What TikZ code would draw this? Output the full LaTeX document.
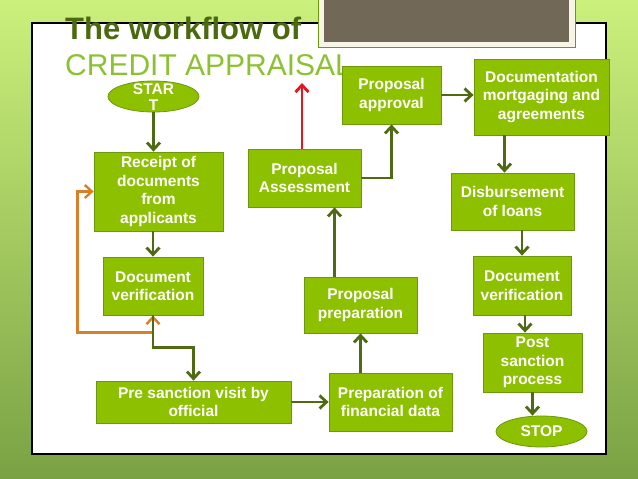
\documentclass[tikz,border=0pt]{standalone}
\usepackage{fontspec}
\setmainfont{Liberation Sans}
\usetikzlibrary{shapes.geometric,calc,arrows.meta,positioning}
\definecolor{boxfill}{RGB}{141,193,0}
\definecolor{boxedge}{RGB}{108,152,12}
\definecolor{flowgreen}{RGB}{78,107,20}
\definecolor{loopback}{RGB}{214,128,42}
\definecolor{redflow}{RGB}{232,20,30}
\definecolor{titledark}{RGB}{75,106,16}
\definecolor{titlelight}{RGB}{140,194,50}
\definecolor{slate}{RGB}{113,104,88}
\definecolor{bgtop}{RGB}{204,240,124}
\definecolor{bgbottom}{RGB}{122,162,68}

\begin{document}
\begin{tikzpicture}[x=1pt, y=-1pt, >={Straight Barb[length=7pt,width=13pt]},
  box/.style={draw=boxedge, line width=0.8pt, fill=boxfill, text=white, align=center, inner sep=1pt, font=\bfseries\fontsize{15.5}{18.5}\selectfont},
  oval/.style={box, ellipse, minimum width=91pt, minimum height=31pt, inner sep=0pt},
  flow/.style={->, draw=flowgreen, line width=2.8pt},
  backflow/.style={<->, draw=loopback, line width=2.4pt}]
\useasboundingbox (0,0) rectangle (638,479);
% background and panel
\shade[top color=bgtop, bottom color=bgbottom] (0,0) rectangle (638,479);
\draw[fill=white, line width=1.2pt] (32,23) rectangle (606,454);
\draw[fill=white!93!olive, draw=boxedge, line width=0.6pt] (318,-5) rectangle (575,47);
\fill[slate] (324,-5) rectangle (569,42);
% title
\node[anchor=base west, inner sep=0pt, text=titledark, font=\bfseries\fontsize{31}{36}\selectfont] (title) at (65,39) {The workflow of};
\node[anchor=base west, inner sep=0pt, text=titlelight, font=\fontsize{30}{36}\selectfont] (subtitle) at (65,75) {CREDIT APPRAISAL};
% steps
\node[oval] (start) at (153.5,96.5) {\raisebox{3.5pt}{\smash{\begin{tabular}[t]{@{}c@{}}STAR\\[-3pt]T\end{tabular}}}};
\node[box, minimum width=129pt, minimum height=79pt] (receipt) at (158.5,191.5) {Receipt of\\documents\\from\\applicants};
\node[box, minimum width=100pt, minimum height=58pt] (docver) at (153,286) {Document\\verification};
\node[box, minimum width=195pt, minimum height=42pt] (previsit) at (193.5,402) {Pre sanction visit by\\official};
\node[box, minimum width=123pt, minimum height=58pt] (findata) at (390.5,402) {Preparation of\\financial data};
\node[box, minimum width=113pt, minimum height=56pt] (prep) at (360.5,305) {Proposal\\preparation};
\node[box, minimum width=113pt, minimum height=58pt] (assess) at (304.5,178) {Proposal\\Assessment};
\node[box, minimum width=99pt, minimum height=58pt] (approve) at (391.5,95) {Proposal\\approval};
\node[box, minimum width=135pt, minimum height=76pt] (mortg) at (541.5,97) {Documentation\\mortgaging and\\agreements};
\node[box, minimum width=123pt, minimum height=57pt] (disburse) at (512.5,201.5) {Disbursement\\of loans};
\node[box, minimum width=98pt, minimum height=59pt] (postver) at (522,285.5) {Document\\verification};
\node[box, minimum width=99pt, minimum height=59pt] (postsanc) at (532.5,362.5) {Post\\sanction\\process};
\node[oval] (stop) at (541.5,431.5) {STOP};
\coordinate (redtip) at (302,83);
% connectors
\draw[backflow] (docver.south) -- ++(0,17) -| ([xshift=-16pt]receipt.west) -- (receipt.west);
\draw[flow] (start.south) -- (start.south |- receipt.north);
\draw[flow] (docver.north |- receipt.south) -- (docver.north);
\draw[flow] (docver.south) -- ++(0,32) -| (previsit.north);
\draw[flow] (previsit) -- (findata);
\draw[flow] (prep.south |- findata.north) -- (prep.south);
\draw[flow] ([xshift=-26pt]prep.north) -- ([xshift=-26pt]prep.north |- assess.south);
\draw[flow] (assess.east) -| (approve.south);
\draw[->, draw=redflow, line width=2.8pt] (redtip |- assess.north) -- (redtip);
\draw[flow] (approve) -- (approve -| mortg.west);
\draw[flow] ([xshift=-8pt]disburse.north |- mortg.south) -- ([xshift=-8pt]disburse.north);
\draw[flow] (postver.north |- disburse.south) -- (postver.north);
\draw[flow] ([xshift=3pt]postver.south) -- ([xshift=3pt]postver.south |- postsanc.north);
\draw[flow] (postsanc.south) -- (postsanc.south |- stop.north);
\end{tikzpicture}
\end{document}
